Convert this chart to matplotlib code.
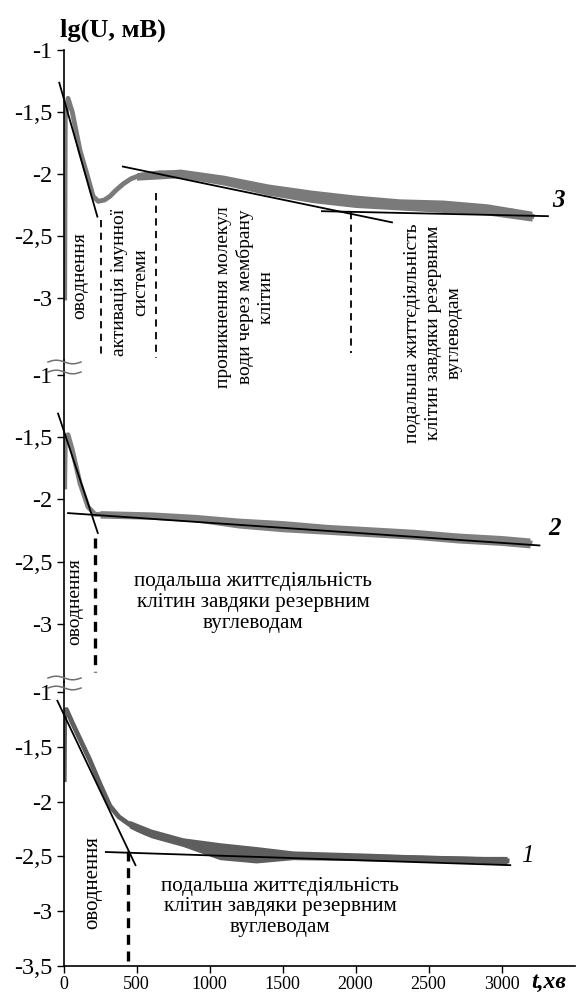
import numpy as np
import matplotlib.pyplot as plt
from matplotlib.lines import Line2D

plt.rcParams['font.family'] = ['Liberation Serif', 'DejaVu Serif']

# ---- curve 3 (top panel) ----
t3 = [8, 12, 31, 60, 113, 160, 203, 238, 280, 318, 360, 409, 460, 524, 590, 660, 740, 820,
      1000, 1161, 1350, 1483, 1572, 1800, 2000, 2168, 2400, 2626, 2850, 3079, 3209]
v3 = [-3.0, -1.55, -1.39, -1.5, -1.81, -2.0, -2.18, -2.22, -2.21, -2.18, -2.13, -2.08, -2.04,
      -2.01, -2.0, -1.99, -1.99, -2.0, -2.03, -2.07, -2.12, -2.15, -2.17, -2.2, -2.22, -2.24,
      -2.25, -2.26, -2.28, -2.3, -2.34]
band3_t = [500, 800, 1100, 1400, 1700, 2000, 2300, 2600, 2900, 3209]
band3_hi = [-1.99, -1.96, -2.01, -2.08, -2.13, -2.17, -2.2, -2.21, -2.24, -2.3]
band3_lo = [-2.05, -2.03, -2.09, -2.17, -2.23, -2.27, -2.29, -2.31, -2.33, -2.38]
fit3_t = [[-29, 232], [407, 2250], [1770, 3318]]
fit3_v = [[-1.264, -2.344], [-1.94, -2.39], [-2.30, -2.34]]
dash3_t = [255, 633, 1969]
dash3_top = [-2.37, -2.15, -2.31]
dash3_bot = [-3.48, -3.48, -3.44]

# ---- curve 2 (middle panel) ----
t2 = [8, 12, 31, 60, 113, 168, 216, 300, 477, 600, 750, 950, 1161, 1350, 1483, 1572, 1800,
      2000, 2168, 2400, 2626, 2850, 3079, 3195]
v2 = [-1.9, -1.55, -1.48, -1.6, -1.87, -2.06, -2.12, -2.12, -2.13, -2.13, -2.14, -2.16, -2.19,
      -2.2, -2.21, -2.23, -2.24, -2.25, -2.26, -2.28, -2.3, -2.32, -2.34, -2.35]
band2_t = [250, 600, 900, 1200, 1500, 1800, 2100, 2400, 2700, 3000, 3195]
band2_hi = [-2.09, -2.1, -2.12, -2.15, -2.17, -2.2, -2.22, -2.24, -2.27, -2.29, -2.31]
band2_lo = [-2.15, -2.16, -2.18, -2.23, -2.26, -2.28, -2.3, -2.32, -2.35, -2.37, -2.39]
fit2_t = [[-37, 235], [31, 3260]]
fit2_v = [[-1.31, -2.27], [-2.11, -2.37]]
dash2_t = [216]
dash2_top = [-2.31]
dash2_bot = [-3.39]

# ---- curve 1 (bottom panel) ----
t1 = [5, 8, 20, 60, 120, 180, 250, 318, 380, 443, 500, 568, 700, 818, 950, 1071, 1300, 1572,
      1900, 2324, 2650, 2952, 3038]
v1 = [-1.8, -1.2, -1.16, -1.28, -1.45, -1.62, -1.84, -2.04, -2.14, -2.2, -2.25, -2.29, -2.34,
      -2.38, -2.42, -2.44, -2.47, -2.49, -2.5, -2.51, -2.52, -2.53, -2.54]
band1_t = [450, 600, 818, 1071, 1320, 1572, 2073, 2500, 2826, 3038]
band1_hi = [-2.17, -2.25, -2.33, -2.375, -2.41, -2.45, -2.47, -2.49, -2.5, -2.5]
band1_lo = [-2.24, -2.33, -2.41, -2.53, -2.56, -2.53, -2.54, -2.55, -2.56, -2.58]
fit1_t = [[-42, 493], [290, 3060]]
fit1_v = [[-1.08, -2.58], [-2.46, -2.58]]
dash1_t = [443]
dash1_top = [-2.45]
dash1_bot = [-3.5]

yt_top = [-1, -1.5, -2, -2.5, -3]
yt_top_lab = ['-1', '-1,5', '-2', '-2,5', '-3']
yt_bot = [-1, -1.5, -2, -2.5, -3, -3.5]
yt_bot_lab = ['-1', '-1,5', '-2', '-2,5', '-3', '-3,5']
xt = [0, 500, 1000, 1500, 2000, 2500, 3000]
xt_lab = ['0', '500', '1000', '1500', '2000', '2500', '3000']

txt_hydr = 'оводнення'
txt_carb = 'подальша життєдіяльність\nклітин завдяки резервним\nвуглеводам'
txt_imm = 'активація імунної\nсистеми'
txt_mem = 'проникнення молекул\nводи через мембрану\nклітин'

W, H = 576, 992
fig = plt.figure(figsize=(W / 100, H / 100), dpi=100)


def make_ax(top, bottom, ylim, yt, ytl):
    ax = fig.add_axes([63.5 / W, 1 - bottom / H, 511 / W, (bottom - top) / H])
    ax.set_xlim(0, 3500)
    ax.set_ylim(*ylim)
    for s in ['top', 'right', 'bottom']:
        ax.spines[s].set_visible(False)
    ax.spines['left'].set_linewidth(1.2)
    ax.set_yticks(yt)
    ax.set_yticklabels(ytl)
    ax.tick_params(axis='y', direction='out', length=5, width=1, labelsize=17.5, pad=3)
    ax.set_xticks([])
    ax.patch.set_alpha(0)
    return ax


ax3 = make_ax(50, 360, (-3.5, -1.0), yt_top, yt_top_lab)
ax2 = make_ax(360, 682, (-3.468, -0.879), yt_top, yt_top_lab)
ax1 = make_ax(682, 966, (-3.5, -0.909), yt_bot, yt_bot_lab)
ax1.spines['bottom'].set_visible(True)
ax1.spines['bottom'].set_linewidth(1.2)
ax1.set_xticks(xt)
ax1.set_xticklabels(xt_lab)
ax1.tick_params(axis='x', direction='out', length=5, width=1, labelsize=13, pad=2)


def draw(ax, t, v, bt, bhi, blo, fits_t, fits_v, dt, dtop, dbot, col, dash_lw, dash_pat):
    ax.fill_between(bt, blo, bhi, color=col, lw=0, zorder=2)
    ax.plot(t, v, color=col, lw=3.5, zorder=2, solid_joinstyle='round')
    for ft, fv in zip(fits_t, fits_v):
        ax.plot(ft, fv, color='black', lw=1.3, zorder=3, clip_on=False)
    for x, a, b in zip(dt, dtop, dbot):
        ax.plot([x, x], [a, b], color='black', lw=dash_lw, dashes=dash_pat, zorder=3,
                clip_on=False)


draw(ax3, t3, v3, band3_t, band3_hi, band3_lo, fit3_t, fit3_v, dash3_t, dash3_top, dash3_bot,
     '#7a7a7a', 1.3, (4, 3))
draw(ax2, t2, v2, band2_t, band2_hi, band2_lo, fit2_t, fit2_v, dash2_t, dash2_top, dash2_bot,
     '#808080', 2.4, (3, 2))
draw(ax1, t1, v1, band1_t, band1_hi, band1_lo, fit1_t, fit1_v, dash1_t, dash1_top, dash1_bot,
     '#5e5e5e', 2.4, (3, 2))

fs = 14
fs_h = 15.2
# top panel annotations (rotated, read bottom-to-top)
ax3.text(113, -2.82, txt_hydr, rotation=90, ha='center', va='center', fontsize=fs)
ax3.text(455, -2.87, txt_imm, rotation=90, ha='center', va='center', fontsize=fs,
         multialignment='center', linespacing=1.3)
ax3.text(1243, -2.99, txt_mem, rotation=90, ha='center', va='center', fontsize=fs,
         multialignment='center', linespacing=1.3, clip_on=False)
ax3.text(2531, -3.28, txt_carb, rotation=90, ha='center', va='center', fontsize=fs,
         multialignment='center', linespacing=1.3, clip_on=False)
ax3.text(3387, -2.21, '3', fontsize=18, fontstyle='italic', fontweight='bold',
         ha='center', va='center')

# middle panel annotations
ax2.text(79, -2.82, txt_hydr, rotation=90, ha='center', va='center', fontsize=fs)
ax2.text(1298, -2.83, txt_carb, ha='center', va='center', fontsize=fs_h,
         multialignment='center', linespacing=1.12)
ax2.text(3366, -2.23, '2', fontsize=18, fontstyle='italic', fontweight='bold',
         ha='center', va='center')

# bottom panel annotations
ax1.text(202, -2.74, txt_hydr, rotation=90, ha='center', va='center', fontsize=15)
ax1.text(1483, -2.96, txt_carb, ha='center', va='center', fontsize=fs_h,
         multialignment='center', linespacing=1.12)
ax1.text(3178, -2.5, '1', fontsize=18, fontstyle='italic', ha='center', va='center')

fig.text(113 / W, 1 - 30 / H, 'lg(U, мВ)', fontsize=19, fontweight='bold',
         ha='center', va='center')
fig.text(549 / W, 1 - 982 / H, 't,хв', fontsize=17, fontweight='bold', fontstyle='italic',
         ha='center', va='center')

# axis break marks
wx = np.linspace(48, 81, 30)
wave = 1.8 * np.sin((wx - 48) / 33 * 2 * np.pi)
for y0 in [362, 372, 678, 688]:
    fig.add_artist(Line2D(wx / W, 1 - (y0 - wave) / H, color='#707070', lw=1.1))

fig.savefig('out.png', dpi=100)
